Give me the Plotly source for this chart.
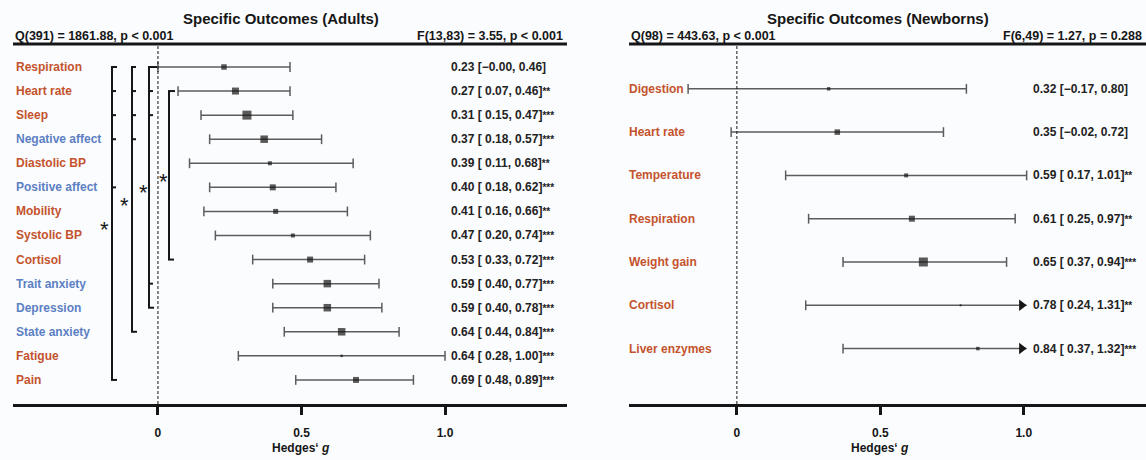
import plotly.graph_objects as go

# ------------------------------------------------------------------ data
adult_outcomes = ["Respiration", "Heart rate", "Sleep", "Negative affect", "Diastolic BP",
                  "Positive affect", "Mobility", "Systolic BP", "Cortisol", "Trait anxiety",
                  "Depression", "State anxiety", "Fatigue", "Pain"]
adult_domain = ["phys", "phys", "phys", "psych", "phys", "psych", "phys", "phys", "phys",
                "psych", "psych", "psych", "phys", "phys"]
adult_g = [0.23, 0.27, 0.31, 0.37, 0.39, 0.40, 0.41, 0.47, 0.53, 0.59, 0.59, 0.64, 0.64, 0.69]
adult_lo = [-0.00, 0.07, 0.15, 0.18, 0.11, 0.18, 0.16, 0.20, 0.33, 0.40, 0.40, 0.44, 0.28, 0.48]
adult_hi = [0.46, 0.46, 0.47, 0.57, 0.68, 0.62, 0.66, 0.74, 0.72, 0.77, 0.78, 0.84, 1.00, 0.89]
adult_sig = ["", "**", "***", "***", "**", "***", "**", "***", "***", "***", "***", "***", "***", "***"]
adult_weight = [5.5, 7, 9, 7.5, 4, 6, 5, 4, 6, 7.5, 7.5, 7.5, 2.5, 6]

newborn_outcomes = ["Digestion", "Heart rate", "Temperature", "Respiration", "Weight gain",
                    "Cortisol", "Liver enzymes"]
newborn_domain = ["phys"] * 7
newborn_g = [0.32, 0.35, 0.59, 0.61, 0.65, 0.78, 0.84]
newborn_lo = [-0.17, -0.02, 0.17, 0.25, 0.37, 0.24, 0.37]
newborn_hi = [0.80, 0.72, 1.01, 0.97, 0.94, 1.31, 1.32]
newborn_sig = ["", "", "**", "**", "***", "**", "***"]
newborn_weight = [3.5, 5.5, 4, 6, 9, 2, 3.5]

adult_title = "Specific Outcomes (Adults)"
adult_q = "Q(391) = 1861.88, p < 0.001"
adult_f = "F(13,83) = 3.55, p < 0.001"
newborn_title = "Specific Outcomes (Newborns)"
newborn_q = "Q(98) = 443.63, p < 0.001"
newborn_f = "F(6,49) = 1.27, p = 0.288"

tick_vals = [0, 0.5, 1.0]
tick_text = ["0", "0.5", "1.0"]

# significance brackets (adults): top row, bottom row, extra tick rows
brackets = [
    dict(top=1, bottom=14, ticks=[2, 3, 4, 6]),
    dict(top=1, bottom=12, ticks=[2, 3, 4]),
    dict(top=1, bottom=11, ticks=[2, 3, 10]),
    dict(top=2, bottom=9, ticks=[]),
]

# ------------------------------------------------------------------ style / layout
W, H = 1146, 460
FONT = "Liberation Sans, Arial, Helvetica, sans-serif"
ORANGE = "#C4532D"
BLUE = "#5B80C4"
INK = "#161616"
CI = "#5c5c5c"
BG = "#fbfcfe"
TOP_PX, AXIS_PX = 44, 404

bracket_x_px = [112, 132, 149, 169]
bracket_toptick_px = [5, 4, 8, 6]
bracket_star = [(104, 7.56), (124, 6.56), (143, 6.02), (163, 5.53)]


def px(x):
    return x / W


def py(y):
    return 1 - y / H


def fmt(g, lo, hi, sig):
    def f(v):
        s = f"{v:.2f}"
        return "\u2212" + s[1:] if s.startswith("-") else " " + s
    t = f"{g:.2f} [{f(lo)}, {hi:.2f}]"
    if sig:
        t += f"<span style=\"font-size:10px\">{sig}</span>"
    return t


panels = [
    dict(xa="x", ya="y", outcomes=adult_outcomes, domain=adult_domain, g=adult_g, lo=adult_lo,
         hi=adult_hi, sig=adult_sig, w=adult_weight, title=adult_title, q=adult_q, f=adult_f,
         xdom=(13, 567), xrange=[-0.505, 1.425], yrange=[15.0, 0.045],
         label_px=14, text_px=449, title_px=281, clip=None),
    dict(xa="x2", ya="y2", outcomes=newborn_outcomes, domain=newborn_domain, g=newborn_g,
         lo=newborn_lo, hi=newborn_hi, sig=newborn_sig, w=newborn_weight, title=newborn_title,
         q=newborn_q, f=newborn_f,
         xdom=(629, 1146), xrange=[-0.376, 1.426], yrange=[8.28, -0.035],
         label_px=627, text_px=1031, title_px=878, clip=1.01),
]

fig = go.Figure()
annotations = []
shapes = []

for p in panels:
    n = len(p["outcomes"])
    rows = list(range(1, n + 1))
    xs, ys = [], []
    cap_x, cap_y = [], []
    arr_x, arr_y = [], []
    ppu = (p["xdom"][1] - p["xdom"][0]) / (p["xrange"][1] - p["xrange"][0])
    for r, lo, hi in zip(rows, p["lo"], p["hi"]):
        cap_x.append(lo)
        cap_y.append(r)
        if p["clip"] is not None and hi > p["clip"] + 0.02:
            xs += [lo, p["clip"], None]
            arr_x.append(p["clip"] - 5 / ppu)
            arr_y.append(r)
        else:
            xs += [lo, hi, None]
            cap_x.append(hi)
            cap_y.append(r)
        ys += [r, r, None]

    fig.add_trace(go.Scatter(x=xs, y=ys, mode="lines", line=dict(color=CI, width=1.5),
                             xaxis=p["xa"], yaxis=p["ya"], hoverinfo="skip", showlegend=False))
    fig.add_trace(go.Scatter(x=cap_x, y=cap_y, mode="markers",
                             marker=dict(symbol="line-ns", size=7, line=dict(color=CI, width=1.5)),
                             xaxis=p["xa"], yaxis=p["ya"], hoverinfo="skip", showlegend=False))
    if arr_x:
        fig.add_trace(go.Scatter(x=arr_x, y=arr_y, mode="markers",
                                 marker=dict(symbol="triangle-right", size=10, color=INK),
                                 xaxis=p["xa"], yaxis=p["ya"], hoverinfo="skip", showlegend=False))
    fig.add_trace(go.Scatter(x=p["g"], y=rows, mode="markers",
                             marker=dict(symbol="square", size=p["w"], color=INK, line=dict(width=0)),
                             xaxis=p["xa"], yaxis=p["ya"], showlegend=False))

    yref = p["ya"]
    for r, name, dom, g, lo, hi, sig in zip(rows, p["outcomes"], p["domain"], p["g"], p["lo"],
                                             p["hi"], p["sig"]):
        annotations.append(dict(x=px(p["label_px"]), y=r, xref="paper", yref=yref, text=name,
                                showarrow=False, xanchor="left", yanchor="middle",
                                font=dict(family=FONT, size=12,
                                          color=ORANGE if dom == "phys" else BLUE,
                                          weight="bold")))
        annotations.append(dict(x=px(p["text_px"]), y=r, xref="paper", yref=yref,
                                text=fmt(g, lo, hi, sig), showarrow=False, xanchor="left",
                                yanchor="middle",
                                font=dict(family=FONT, size=12, color="#222", weight="bold")))

    x0, x1 = p["xdom"]
    annotations.append(dict(x=px(p["title_px"]), y=py(19), xref="paper", yref="paper",
                            text=p["title"], showarrow=False, xanchor="center", yanchor="middle",
                            font=dict(family=FONT, size=15, color=INK, weight="bold")))
    annotations.append(dict(x=px(x0), y=py(36), xref="paper", yref="paper", text=p["q"],
                            showarrow=False, xanchor="left", yanchor="middle",
                            font=dict(family=FONT, size=12.5, color=INK, weight="bold")))
    annotations.append(dict(x=px(x1 - 2), y=py(36), xref="paper", yref="paper", text=p["f"],
                            showarrow=False, xanchor="right", yanchor="middle",
                            font=dict(family=FONT, size=12.5, color=INK, weight="bold")))
    annotations.append(dict(x=0.5, y=py(448), xref=p["xa"], yref="paper",
                            text="Hedges\u2018 <i>g</i>", showarrow=False, xanchor="center",
                            yanchor="middle",
                            font=dict(family=FONT, size=12, color=INK, weight="bold")))
    # top rule
    shapes.append(dict(type="line", xref=p["xa"] + " domain", yref="paper", x0=0, x1=1,
                       y0=py(TOP_PX), y1=py(TOP_PX), line=dict(color=INK, width=3)))
    # reference line at 0
    shapes.append(dict(type="line", xref=p["xa"], yref="paper", x0=0, x1=0,
                       y0=py(AXIS_PX), y1=py(TOP_PX), line=dict(color=INK, width=1, dash="3px,2px")))

# brackets
for b, bx, tt, (sx, sy) in zip(brackets, bracket_x_px, bracket_toptick_px, bracket_star):
    line = dict(color=INK, width=2)
    shapes.append(dict(type="line", xref="paper", yref="y", x0=px(bx), x1=px(bx),
                       y0=b["top"], y1=b["bottom"], line=line))
    shapes.append(dict(type="line", xref="paper", yref="y", x0=px(bx - 1), x1=px(bx + tt),
                       y0=b["top"], y1=b["top"], line=line))
    shapes.append(dict(type="line", xref="paper", yref="y", x0=px(bx - 1), x1=px(bx + 5),
                       y0=b["bottom"], y1=b["bottom"], line=line))
    for t in b["ticks"]:
        shapes.append(dict(type="line", xref="paper", yref="y", x0=px(bx), x1=px(bx + 4),
                           y0=t, y1=t, line=line))
    annotations.append(dict(x=px(sx), y=sy, xref="paper", yref="y", text="*", showarrow=False,
                            xanchor="center", yanchor="middle", yshift=-5,
                            font=dict(family=FONT, size=22, color=INK)))

ydom = [py(AXIS_PX), py(TOP_PX)]
axis_common = dict(showgrid=False, zeroline=False, showline=True, linewidth=3, linecolor=INK,
                   ticks="outside", ticklen=8, tickwidth=3, tickcolor=INK,
                   tickvals=tick_vals, ticktext=tick_text, ticklabelstandoff=8,
                   tickfont=dict(family=FONT, size=12, color=INK, weight="bold"))
yaxis_common = dict(showgrid=False, zeroline=False, showline=False, showticklabels=False,
                    ticks="", domain=ydom)

fig.update_layout(
    width=W, height=H, autosize=False,
    margin=dict(l=0, r=0, t=0, b=0),
    paper_bgcolor=BG, plot_bgcolor=BG,
    xaxis=dict(domain=[px(13), px(567)], range=panels[0]["xrange"], anchor="y", **axis_common),
    yaxis=dict(range=panels[0]["yrange"], anchor="x", **yaxis_common),
    xaxis2=dict(domain=[px(629), 1.0], range=panels[1]["xrange"], anchor="y2", **axis_common),
    yaxis2=dict(range=panels[1]["yrange"], anchor="x2", **yaxis_common),
    annotations=annotations,
    shapes=shapes,
    showlegend=False,
)

fig.write_html("out.html")
